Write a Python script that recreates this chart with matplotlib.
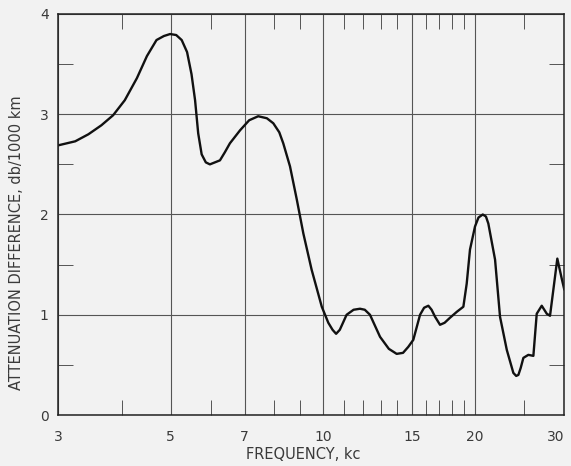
import matplotlib.pyplot as plt
from matplotlib.ticker import FixedLocator, NullFormatter

# frequency (kc) and attenuation difference (db/1000 km)
freq = [3.00, 3.24, 3.44, 3.65, 3.85, 4.06, 4.29, 4.49, 4.69, 4.85, 4.99,
        5.13, 5.26, 5.39, 5.50, 5.59, 5.67, 5.76, 5.87, 5.98, 6.26, 6.40,
        6.55, 6.86, 7.15, 7.45, 7.75, 7.98, 8.20, 8.35, 8.61, 8.88, 9.15,
        9.50, 9.95, 10.25, 10.45, 10.62, 10.80, 11.14, 11.50, 11.84, 12.10,
        12.39, 12.97, 13.50, 13.99, 14.40, 14.75, 15.09, 15.56, 15.85,
        16.16, 16.40, 16.66, 17.04, 17.40, 17.83, 18.40, 18.95, 19.24,
        19.53, 19.98, 20.30, 20.70, 21.00, 21.23, 21.89, 22.39, 23.09,
        23.79, 24.10, 24.34, 24.60, 24.90, 25.47, 26.06, 26.46, 27.07,
        27.70, 28.11, 28.54, 29.06, 29.65, 30.00]
atten = [2.69, 2.73, 2.80, 2.89, 2.99, 3.14, 3.36, 3.58, 3.74, 3.78, 3.80,
         3.79, 3.74, 3.62, 3.40, 3.14, 2.81, 2.60, 2.52, 2.50, 2.54, 2.62,
         2.71, 2.84, 2.94, 2.98, 2.96, 2.91, 2.82, 2.71, 2.48, 2.15, 1.81,
         1.45, 1.08, 0.92, 0.85, 0.81, 0.85, 1.00, 1.05, 1.06, 1.05,
         1.00, 0.78, 0.66, 0.61, 0.62, 0.68, 0.75, 1.00, 1.07,
         1.09, 1.05, 0.98, 0.90, 0.92, 0.97, 1.03, 1.08, 1.31,
         1.65, 1.88, 1.97, 2.00, 1.98, 1.91, 1.55, 0.98, 0.65,
         0.42, 0.39, 0.40, 0.47, 0.57, 0.60, 0.59, 1.01, 1.09,
         1.01, 0.99, 1.25, 1.56, 1.36, 1.25]

major_x = [3, 5, 7, 10, 15, 20, 30]
minor_x = [4, 6, 8, 9, 11, 12, 13, 14, 16, 17, 18, 19, 25]
major_y = [0, 1, 2, 3, 4]
minor_y = [0.5, 1.5, 2.5, 3.5]

bg = "#f2f2f2"
txt = "#3a3a3a"

fig = plt.figure(figsize=(5.71, 4.66), dpi=100, facecolor=bg)
ax = fig.add_axes([0.1021, 0.1094, 0.8862, 0.8606], facecolor=bg)

ax.plot(freq, atten, color="#111111", linewidth=1.7,
        solid_joinstyle="round", solid_capstyle="round")

ax.set_xscale("log")
ax.set_xlim(3, 30)
ax.set_ylim(0, 4)

ax.xaxis.set_major_locator(FixedLocator(major_x))
ax.set_xticklabels([str(v) for v in major_x])
ax.xaxis.set_minor_locator(FixedLocator(minor_x))
ax.xaxis.set_minor_formatter(NullFormatter())
ax.yaxis.set_major_locator(FixedLocator(major_y))
ax.set_yticklabels([str(v) for v in major_y])
ax.yaxis.set_minor_locator(FixedLocator(minor_y))

ax.grid(True, which="major", color="#555555", linewidth=0.8)
ax.tick_params(which="major", length=0, labelsize=10, labelcolor=txt)
ax.tick_params(axis="x", which="major", pad=11)
ax.tick_params(axis="y", which="major", pad=7)
ax.tick_params(which="minor", direction="in", length=11, width=0.7,
               color="#555555", top=True, right=True)
# keep the last frequency label inside the figure
ax.get_xticklabels()[-1].set_horizontalalignment("right")

for s in ax.spines.values():
    s.set_linewidth(1.1)
    s.set_color("#222222")

ax.set_xlabel("FREQUENCY, kc", fontsize=10.5, color=txt)
ax.set_ylabel("ATTENUATION DIFFERENCE, db/1000 km", fontsize=10.5,
              color=txt)
ax.xaxis.set_label_coords(0.484, -0.08)
ax.yaxis.set_label_coords(-0.068, 0.43)

fig.savefig("out.png", dpi=100, facecolor=bg)
